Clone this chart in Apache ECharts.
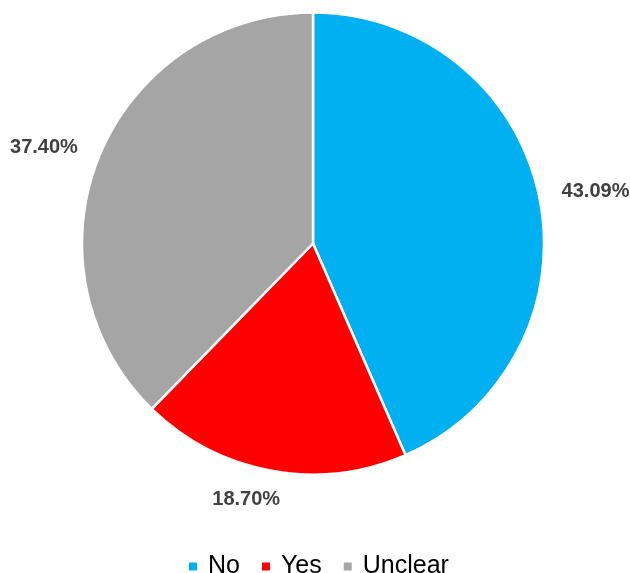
<!DOCTYPE html>
<html>
<head>
<meta charset="utf-8">
<script src="https://cdn.jsdelivr.net/npm/echarts@6/dist/echarts.min.js"></script>
<style>
  html, body { margin: 0; padding: 0; background: #fff; }
  #chart { width: 630px; height: 573px; }
</style>
</head>
<body>
<div id="chart"></div>
<script>
var categories = ['No', 'Yes', 'Unclear'];
var values = [43.09, 18.70, 37.40];
var colors = ['#00B0F0', '#FF0000', '#A5A5A5'];

var myChart = echarts.init(document.getElementById('chart'));

var option = {
  color: colors,
  legend: {
    top: 549,
    left: 182,
    itemWidth: 10,
    itemHeight: 10,
    itemGap: 20,
    icon: 'rect',
    textStyle: {
      color: '#000',
      fontSize: 25,
      fontFamily: 'Liberation Sans, Arial, sans-serif',
      padding: [0, 0, 0, 5]
    },
    data: categories
  },
  series: [
    {
      type: 'pie',
      center: [313, 243.5],
      radius: 231,
      startAngle: 90,
      clockwise: true,
      avoidLabelOverlap: false,
      itemStyle: {
        borderColor: '#fff',
        borderWidth: 2.5
      },
      label: {
        show: true,
        position: 'outside',
        formatter: function (p) { return p.value.toFixed(2) + '%'; },
        color: '#404040',
        fontSize: 20,
        fontWeight: 'bold',
        fontFamily: 'Liberation Sans, Arial, sans-serif',
        distanceToLabelLine: -2
      },
      labelLine: {
        show: false,
        length: 25,
        length2: 0
      },
      // the bottom label sits a bit further right in the original
      labelLayout: function (p) {
        if (p.dataIndex === 1) {
          return { dx: 11, dy: 4 };
        }
      },
      emphasis: { disabled: true },
      data: categories.map(function (c, i) {
        return { name: c, value: values[i] };
      })
    }
  ]
};

myChart.setOption(option);
</script>
</body>
</html>
